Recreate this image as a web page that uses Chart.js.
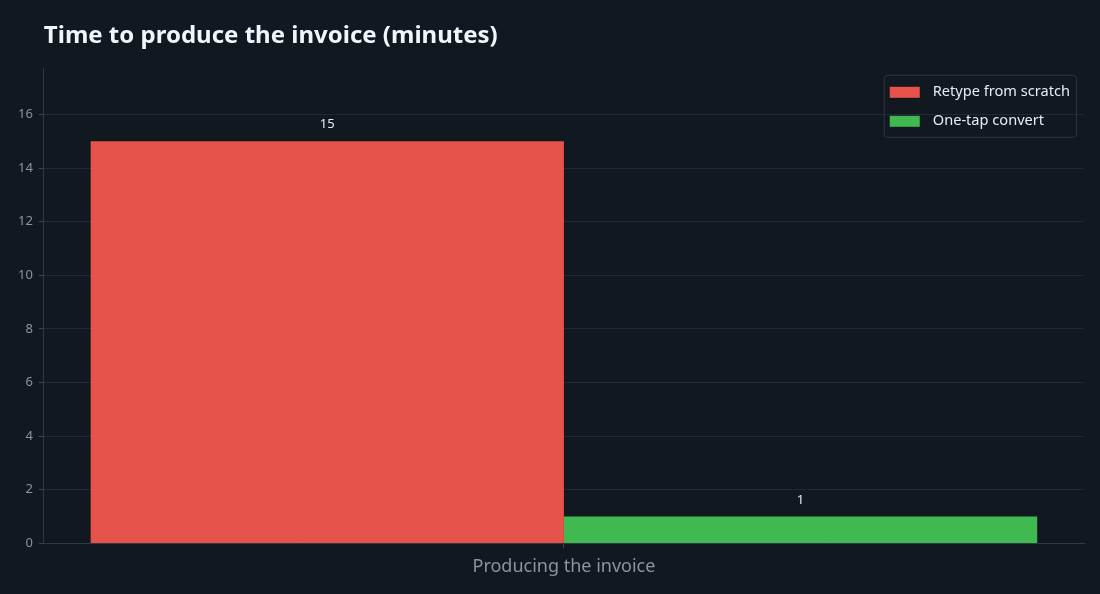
<!DOCTYPE html>
<html>
<head>
<meta charset="utf-8">
<script src="https://cdn.jsdelivr.net/npm/chart.js@4"></script>
<style>
  html, body { margin: 0; padding: 0; background: #111820; }
  #wrap { width: 1100px; height: 594px; }
</style>
</head>
<body>
<div id="wrap"><canvas id="myChart"></canvas></div>
<script>
let categories = ["Producing the invoice"];
let retypeValues = [15];
let convertValues = [1];
let seriesNames = ["Retype from scratch", "One-tap convert"];
let yTicks = [0, 2, 4, 6, 8, 10, 12, 14, 16];

let gridColor = "#1e2a34";
let tickColor = "#8b949e";

// numbers above bars
let barLabels = {
  id: "barLabels",
  afterDatasetsDraw(chart) {
    let ctx = chart.ctx;
    ctx.save();
    ctx.font = "13px 'Noto Sans'";
    ctx.fillStyle = "#e6edf3";
    ctx.textAlign = "center";
    ctx.textBaseline = "bottom";
    chart.data.datasets.forEach((ds, i) => {
      chart.getDatasetMeta(i).data.forEach((bar, j) => {
        ctx.fillText(ds.data[j], bar.x, bar.y - 10);
      });
    });
    ctx.restore();
  }
};

// legend inside the plot, top right, with a thin border
let insideLegend = {
  id: "insideLegend",
  afterDatasetsDraw(chart) {
    let ctx = chart.ctx;
    let area = chart.chartArea;
    let dsets = chart.data.datasets;
    ctx.save();
    ctx.font = "14.6px 'Noto Sans'";
    let textW = Math.max(...dsets.map(d => ctx.measureText(d.label).width));
    let w = 6 + 30 + 13 + textW + 6;
    let h = 62;
    let x = area.right - 8 - w;
    let y = area.top + 6;
    ctx.strokeStyle = "#2a3540";
    ctx.lineWidth = 1;
    ctx.beginPath();
    ctx.roundRect(x + 0.5, y + 0.5, w, h, 3);
    ctx.stroke();
    dsets.forEach((d, i) => {
      let cy = y + 17 + i * 29;
      ctx.fillStyle = d.backgroundColor;
      ctx.fillRect(x + 6, cy - 5, 30, 11);
      ctx.fillStyle = "#e6edf3";
      ctx.textBaseline = "middle";
      ctx.textAlign = "left";
      ctx.fillText(d.label, x + 49, cy);
    });
    ctx.restore();
  }
};

new Chart("myChart", {
  type: "bar",
  data: {
    labels: categories,
    datasets: [{
      label: seriesNames[0],
      data: retypeValues,
      backgroundColor: "#e5534b",
      barPercentage: 1,
      categoryPercentage: 0.91
    }, {
      label: seriesNames[1],
      data: convertValues,
      backgroundColor: "#3fb950",
      barPercentage: 1,
      categoryPercentage: 0.91
    }]
  },
  options: {
    responsive: true,
    maintainAspectRatio: false,
    animation: false,
    layout: {
      padding: { left: 12, right: 16, bottom: 8, top: 4 }
    },
    plugins: {
      title: {
        display: true,
        text: "Time to produce the invoice (minutes)",
        align: "start",
        fullSize: false,
        color: "#f0f6fc",
        font: { family: "'Noto Sans'", size: 24, weight: "bold" },
        padding: { top: 18, bottom: 18 }
      },
      legend: { display: false },
      tooltip: { enabled: false }
    },
    scales: {
      x: {
        grid: { display: true, offset: false, drawOnChartArea: false, drawTicks: true, tickLength: 5, color: "#3a4550" },
        border: { color: "#2e3945" },
        ticks: { color: tickColor, font: { family: "'Noto Sans'", size: 18 }, padding: 8 }
      },
      y: {
        min: 0,
        max: 17.7,
        afterBuildTicks: axis => { axis.ticks = yTicks.map(v => ({ value: v })); },
        grid: { color: gridColor, tickLength: 5, tickColor: "#3a4550" },
        border: { color: "#2e3945" },
        ticks: { color: tickColor, font: { family: "'Noto Sans'", size: 13 }, padding: 6 }
      }
    }
  },
  plugins: [barLabels, insideLegend]
});
</script>
</body>
</html>
